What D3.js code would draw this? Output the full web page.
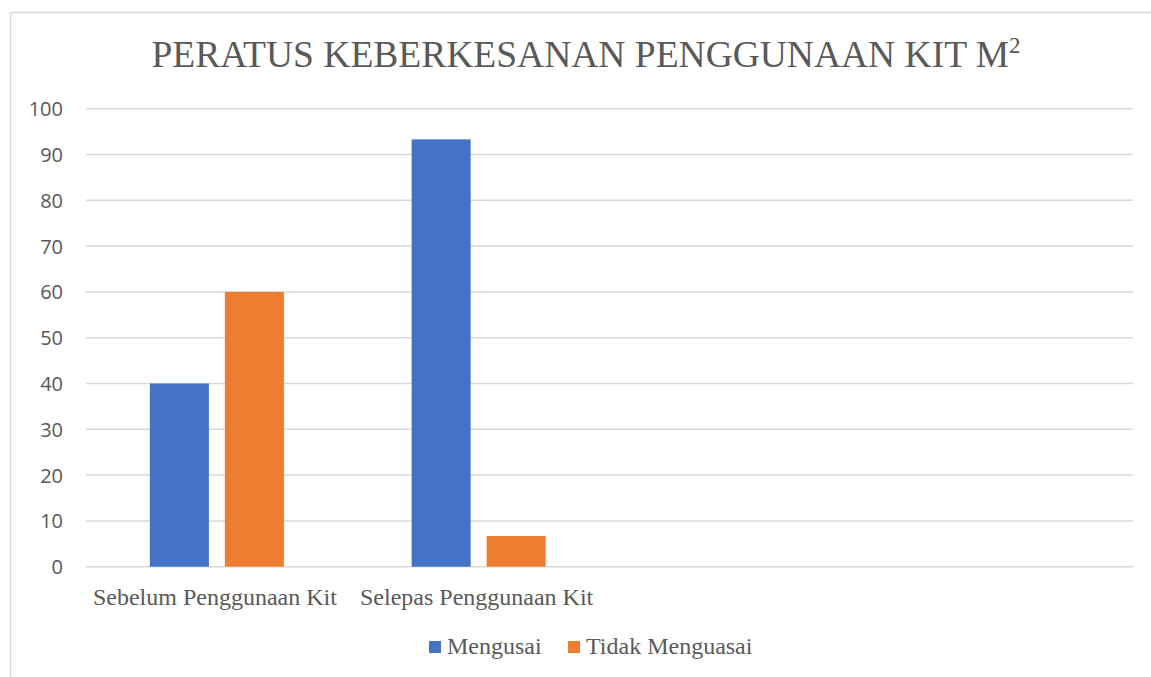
<!DOCTYPE html>
<html>
<head>
<meta charset="utf-8">
<script src="https://cdn.jsdelivr.net/npm/d3@7"></script>
<style>
  body { margin: 0; background: #fff; }
</style>
</head>
<body>
<script>
var categories = ["Sebelum Penggunaan Kit", "Selepas Penggunaan Kit", "", ""];
var seriesNames = ["Mengusai", "Tidak Menguasai"];
var mengusai = [40, 93.3, null, null];
var tidakMenguasai = [60, 6.7, null, null];
var yTicks = [0, 10, 20, 30, 40, 50, 60, 70, 80, 90, 100];
var colors = ["#4472c4", "#ed7d31"];

var width = 1151, height = 677;
var plotLeft = 86, plotRight = 1133, plotTop = 108.7, plotBottom = 566.7;

var svg = d3.select("body").append("svg")
    .attr("width", width)
    .attr("height", height);

// chart border (cut off on right and bottom)
svg.append("rect")
    .attr("x", 10.5)
    .attr("y", 12.5)
    .attr("width", 1200)
    .attr("height", 700)
    .attr("fill", "none")
    .attr("stroke", "#d9d9d9")
    .attr("stroke-width", 1.5);

// title
var title = svg.append("text")
    .attr("x", 586)
    .attr("y", 67)
    .attr("text-anchor", "middle")
    .attr("font-family", "Liberation Serif, Times New Roman, serif")
    .attr("font-size", 37.5)
    .attr("fill", "#595959")
    .text("PERATUS KEBERKESANAN PENGGUNAAN KIT M");
title.append("tspan")
    .attr("font-size", 23)
    .attr("dy", -14)
    .text("2");

var x0 = d3.scaleBand()
    .domain(d3.range(categories.length))
    .range([plotLeft, plotRight]);

var groupW = 134;
var x1 = d3.scaleBand()
    .domain(seriesNames)
    .range([0, groupW])
    .paddingInner(0.213);

var y = d3.scaleLinear()
    .domain([0, 100])
    .range([plotBottom, plotTop]);

// gridlines
svg.append("g")
  .selectAll("line")
  .data(yTicks)
  .enter()
  .append("line")
    .attr("x1", plotLeft)
    .attr("x2", plotRight)
    .attr("y1", function (d) { return y(d); })
    .attr("y2", function (d) { return y(d); })
    .attr("stroke", "#d9d9d9")
    .attr("stroke-width", 1.5);

// y axis labels
var yAxis = d3.axisLeft(y)
    .tickValues(yTicks)
    .tickSize(0)
    .tickPadding(0);
var yg = svg.append("g")
    .attr("transform", "translate(63,0)")
    .call(yAxis);
yg.select(".domain").remove();
yg.selectAll("text")
    .attr("font-family", "Open Sans, sans-serif")
    .attr("font-size", 20)
    .attr("fill", "#595959")
    .attr("dy", "0.35em");

// bars
var rows = categories.map(function (c, i) {
  return { i: i, values: [mengusai[i], tidakMenguasai[i]] };
});

var groups = svg.append("g")
  .selectAll("g")
  .data(rows)
  .enter()
  .append("g")
    .attr("transform", function (d) {
      return "translate(" + (x0(d.i) + (x0.bandwidth() - groupW) / 2) + ",0)";
    });

groups.selectAll("rect")
  .data(function (d) {
    return d.values.map(function (v, k) { return { name: seriesNames[k], value: v, k: k }; })
      .filter(function (e) { return e.value != null; });
  })
  .enter()
  .append("rect")
    .attr("x", function (d) { return x1(d.name); })
    .attr("width", x1.bandwidth())
    .attr("y", function (d) { return y(d.value); })
    .attr("height", function (d) { return y(0) - y(d.value); })
    .attr("fill", function (d) { return colors[d.k]; });

// category labels
var xAxis = d3.axisBottom(x0)
    .tickSize(0)
    .tickPadding(0)
    .tickFormat(function (i) { return categories[i]; });
var xg = svg.append("g")
    .attr("transform", "translate(-2,605)")
    .call(xAxis);
xg.select(".domain").remove();
xg.selectAll("text")
    .attr("font-family", "Liberation Serif, Times New Roman, serif")
    .attr("font-size", 24)
    .attr("fill", "#595959")
    .attr("dy", 0);

// legend
var legendX = [429, 568];
var legend = svg.append("g")
  .selectAll("g")
  .data(seriesNames)
  .enter()
  .append("g")
    .attr("transform", function (d, i) { return "translate(" + legendX[i] + ",641)"; });
legend.append("rect")
    .attr("width", 12)
    .attr("height", 12)
    .attr("fill", function (d, i) { return colors[i]; });
legend.append("text")
    .attr("x", 18)
    .attr("y", 13)
    .attr("font-family", "Liberation Serif, Times New Roman, serif")
    .attr("font-size", 24)
    .attr("fill", "#595959")
    .text(function (d) { return d; });
</script>
</body>
</html>
